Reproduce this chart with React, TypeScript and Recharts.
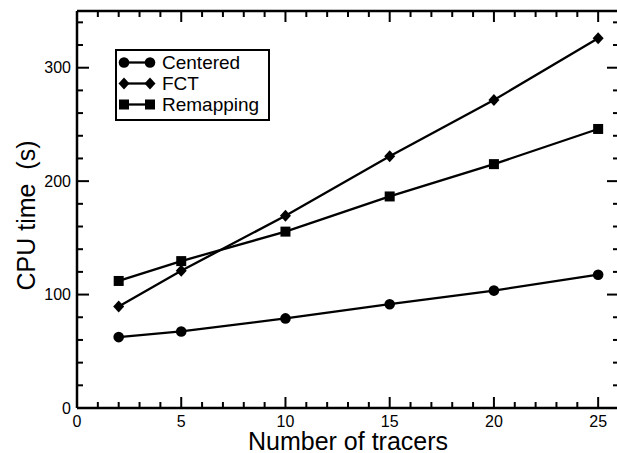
import React from 'react';
import { LineChart, Line, XAxis, YAxis, Legend, Label } from 'recharts';

const FONT = "'Liberation Sans', Arial, Helvetica, sans-serif";

const tracers = [2, 5, 10, 15, 20, 25];
const centered = [62.5, 67.5, 79, 91.5, 103.5, 117.5];
const fct = [89.5, 121, 169.5, 222, 271.5, 326];
const remapping = [112, 129.5, 155.5, 186.5, 215, 246];

const xTicks = [0, 1, 2, 3, 4, 5, 6, 7, 8, 9, 10, 11, 12, 13, 14, 15, 16, 17, 18, 19, 20, 21, 22, 23, 24, 25, 26];
const xLabelTicks = [0, 5, 10, 15, 20, 25];
const yTicks = [0, 20, 40, 60, 80, 100, 120, 140, 160, 180, 200, 220, 240, 260, 280, 300, 320, 340];
const yLabelTicks = [0, 100, 200, 300];

const xTitle = 'Number of tracers';
const yTitle = 'CPU time  (s)';

const series = [
  { key: 'centered', name: 'Centered', shape: 'circle', values: centered },
  { key: 'fct', name: 'FCT', shape: 'diamond', values: fct },
  { key: 'remapping', name: 'Remapping', shape: 'square', values: remapping },
];

const data = tracers.map((t, i) => {
  const row: any = { tracers: t };
  series.forEach((s) => {
    row[s.key] = s.values[i];
  });
  return row;
});

function Marker({ shape, cx, cy }: { shape: string; cx: number; cy: number }) {
  if (shape === 'circle') return <circle cx={cx} cy={cy} r={5.3} fill="#000" />;
  if (shape === 'diamond')
    return (
      <polygon
        points={`${cx},${cy - 6} ${cx + 5.5},${cy} ${cx},${cy + 6} ${cx - 5.5},${cy}`}
        fill="#000"
      />
    );
  return <rect x={cx - 5} y={cy - 5} width={10} height={10} fill="#000" />;
}

const MAJOR = 11;
const MINOR = 6;
const TICK_W = 2;

const BottomTick = (props: any) => {
  const { x, y, payload } = props;
  const major = xLabelTicks.includes(payload.value);
  return (
    <g>
      <line x1={x} y1={y} x2={x} y2={y - (major ? MAJOR : MINOR)} stroke="#000" strokeWidth={TICK_W} />
      {major && (
        <text x={x} y={y + 19} textAnchor="middle" fontSize={16} fontFamily={FONT} fill="#000">
          {payload.value}
        </text>
      )}
    </g>
  );
};

const TopTick = (props: any) => {
  const { x, y, payload } = props;
  const major = xLabelTicks.includes(payload.value);
  return <line x1={x} y1={y} x2={x} y2={y + (major ? MAJOR : MINOR)} stroke="#000" strokeWidth={TICK_W} />;
};

const LeftTick = (props: any) => {
  const { x, y, payload } = props;
  const major = yLabelTicks.includes(payload.value);
  return (
    <g>
      <line x1={x} y1={y} x2={x + (major ? MAJOR + 1 : MINOR)} y2={y} stroke="#000" strokeWidth={TICK_W} />
      {major && (
        <text x={x - 6} y={y} dy="0.36em" textAnchor="end" fontSize={16} fontFamily={FONT} fill="#000">
          {payload.value}
        </text>
      )}
    </g>
  );
};

const RightTick = (props: any) => {
  const { x, y, payload } = props;
  const major = yLabelTicks.includes(payload.value);
  return <line x1={x} y1={y} x2={x - (major ? MAJOR + 1 : MINOR)} y2={y} stroke="#000" strokeWidth={TICK_W} />;
};

const renderLegend = (props: any) => {
  const payload = props.payload || [];
  return (
    <div
      style={{
        border: '2px solid #000',
        width: 155,
        height: 72,
        boxSizing: 'border-box',
        paddingTop: 1,
        background: '#fff',
        fontFamily: FONT,
        fontSize: 19,
        color: '#000',
      }}
    >
      {payload.map((p: any) => {
        const s = series.find((d) => d.name === p.value);
        return (
          <div key={p.value} style={{ display: 'flex', alignItems: 'center', height: 21, lineHeight: '21px' }}>
            <svg width={45} height={21} style={{ display: 'block' }}>
              <line x1={7} y1={10.5} x2={33} y2={10.5} stroke="#000" strokeWidth={2.3} />
              <Marker shape={s ? s.shape : 'circle'} cx={7} cy={10.5} />
              <Marker shape={s ? s.shape : 'circle'} cx={33} cy={10.5} />
            </svg>
            <span>{p.value}</span>
          </div>
        );
      })}
    </div>
  );
};

export default function App() {
  return (
    <div style={{ position: 'absolute', left: 0, top: 0, width: 617, height: 453, background: '#fff' }}>
      <LineChart width={617} height={453} data={data} margin={{ top: 10, right: -3, bottom: 0, left: 17 }}>
        <XAxis
          xAxisId="b"
          dataKey="tracers"
          type="number"
          domain={[0, 26]}
          ticks={xTicks}
          interval={0}
          orientation="bottom"
          height={45}
          tickSize={0}
          tickMargin={0}
          tickLine={false}
          tick={BottomTick}
          axisLine={{ stroke: '#000', strokeWidth: 2.5 }}
          allowDataOverflow
        >
          <Label
            content={(p: any) => {
              const vb = p.viewBox || { x: 77, y: 408, width: 542 };
              return (
                <text
                  x={vb.x + vb.width / 2}
                  y={vb.y + 42}
                  textAnchor="middle"
                  fontSize={25}
                  fontFamily={FONT}
                  fill="#000"
                >
                  {xTitle}
                </text>
              );
            }}
          />
        </XAxis>
        <XAxis
          xAxisId="t"
          dataKey="tracers"
          type="number"
          domain={[0, 26]}
          ticks={xTicks}
          interval={0}
          orientation="top"
          height={1}
          tickSize={0}
          tickMargin={0}
          tickLine={false}
          tick={TopTick}
          axisLine={{ stroke: '#000', strokeWidth: 2.5 }}
          allowDataOverflow
        />
        <YAxis
          yAxisId="l"
          type="number"
          domain={[0, 350]}
          ticks={yTicks}
          interval={0}
          orientation="left"
          width={60}
          tickSize={0}
          tickMargin={0}
          tickLine={false}
          tick={LeftTick}
          axisLine={{ stroke: '#000', strokeWidth: 2.5 }}
          allowDataOverflow
        >
          <Label
            content={(p: any) => {
              const vb = p.viewBox || { x: 17, y: 11, height: 397 };
              const cx = 26;
              const cy = vb.y + vb.height / 2 + 6;
              return (
                <text
                  x={cx}
                  y={cy}
                  dy="0.36em"
                  transform={`rotate(-90, ${cx}, ${cy})`}
                  textAnchor="middle"
                  fontSize={25}
                  fontFamily={FONT}
                  fill="#000"
                  style={{ whiteSpace: 'pre' }}
                >
                  {yTitle}
                </text>
              );
            }}
          />
        </YAxis>
        <YAxis
          yAxisId="r"
          type="number"
          domain={[0, 350]}
          ticks={yTicks}
          interval={0}
          orientation="right"
          width={1}
          tickSize={0}
          tickMargin={0}
          tickLine={false}
          tick={RightTick}
          axisLine={{ stroke: '#000', strokeWidth: 2.5 }}
          allowDataOverflow
        />
        <Legend
          layout="vertical"
          align="center"
          verticalAlign="middle"
          content={renderLegend}
          wrapperStyle={{ left: 115, top: 49, width: 'auto', height: 'auto' }}
        />
        {series.map((s) => (
          <Line
            key={s.key}
            xAxisId="b"
            yAxisId="l"
            type="linear"
            dataKey={s.key}
            name={s.name}
            stroke="#000"
            strokeWidth={2.3}
            isAnimationActive={false}
            dot={(p: any) => <Marker key={`${s.key}-${p.index}`} shape={s.shape} cx={p.cx} cy={p.cy} />}
            activeDot={false}
            legendType="line"
          />
        ))}
      </LineChart>
    </div>
  );
}
